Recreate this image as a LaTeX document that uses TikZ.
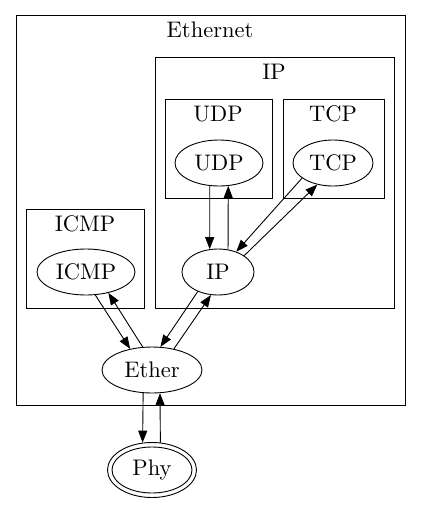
\documentclass[tikz,border=0pt]{standalone}
\usepackage{graphicx}
\usetikzlibrary{arrows.meta,shapes.geometric}
\newcommand{\lbl}[1]{\scalebox{2.25}{#1}}
\begin{document}
\begin{tikzpicture}[x=1pt,y=-1pt,line width=0.9pt,
    proto/.style={ellipse,draw,inner sep=0pt,minimum height=46pt},
    link/.style={-{Triangle[length=12pt,width=9pt]}}]
    \useasboundingbox (0,0) rectangle (421,507);

    % clusters
    \draw (16,15) rectangle (405,405);
    \node (ethernet) at (210,30) {\lbl{Ethernet}};
    \draw (155,57) rectangle (394,308);
    \node (iplabel) at (274,72) {\lbl{IP}};
    \draw (165,99) rectangle (272,198);
    \node (udplabel) at (218,114) {\lbl{UDP}};
    \draw (283,99) rectangle (384,198);
    \node (tcplabel) at (333,114) {\lbl{TCP}};
    \draw (26,209) rectangle (144,308);
    \node (icmplabel) at (85,224) {\lbl{ICMP}};

    % protocols
    \node[proto,minimum width=88pt] (udp) at (219,163) {\lbl{UDP}};
    \node[proto,minimum width=80pt] (tcp) at (333,163) {\lbl{TCP}};
    \node[proto,minimum width=72pt] (ip) at (218,272) {\lbl{IP}};
    \node[proto,minimum width=98pt] (icmp) at (86,272) {\lbl{ICMP}};
    \node[proto,minimum width=100pt] (ether) at (152,370) {\lbl{Ether}};
    \node[proto,minimum width=80pt] (phy) at (152,470) {\lbl{Phy}};
    \node[ellipse,draw,minimum width=89pt,minimum height=55pt] (phyout) at (phy) {};

    % links
    \draw[link] (udp.-112) -- (ip.110);
    \draw[link] (ip.66) -- (udp.-68);
    \draw[link] (tcp.-154) -- (ip.48);
    \draw[link] (ip.32) -- (tcp.-126);
    \draw[link] (icmp.-68) -- (ether.136);
    \draw[link] (ether.112) -- (icmp.-43);
    \draw[link] (ip.-136) -- (ether.70);
    \draw[link] (ether.44) -- (ip.-107);
    \draw[link] (ether.-111) -- (phyout.109);
    \draw[link] (phyout.73) -- (ether.-71);
\end{tikzpicture}
\end{document}
